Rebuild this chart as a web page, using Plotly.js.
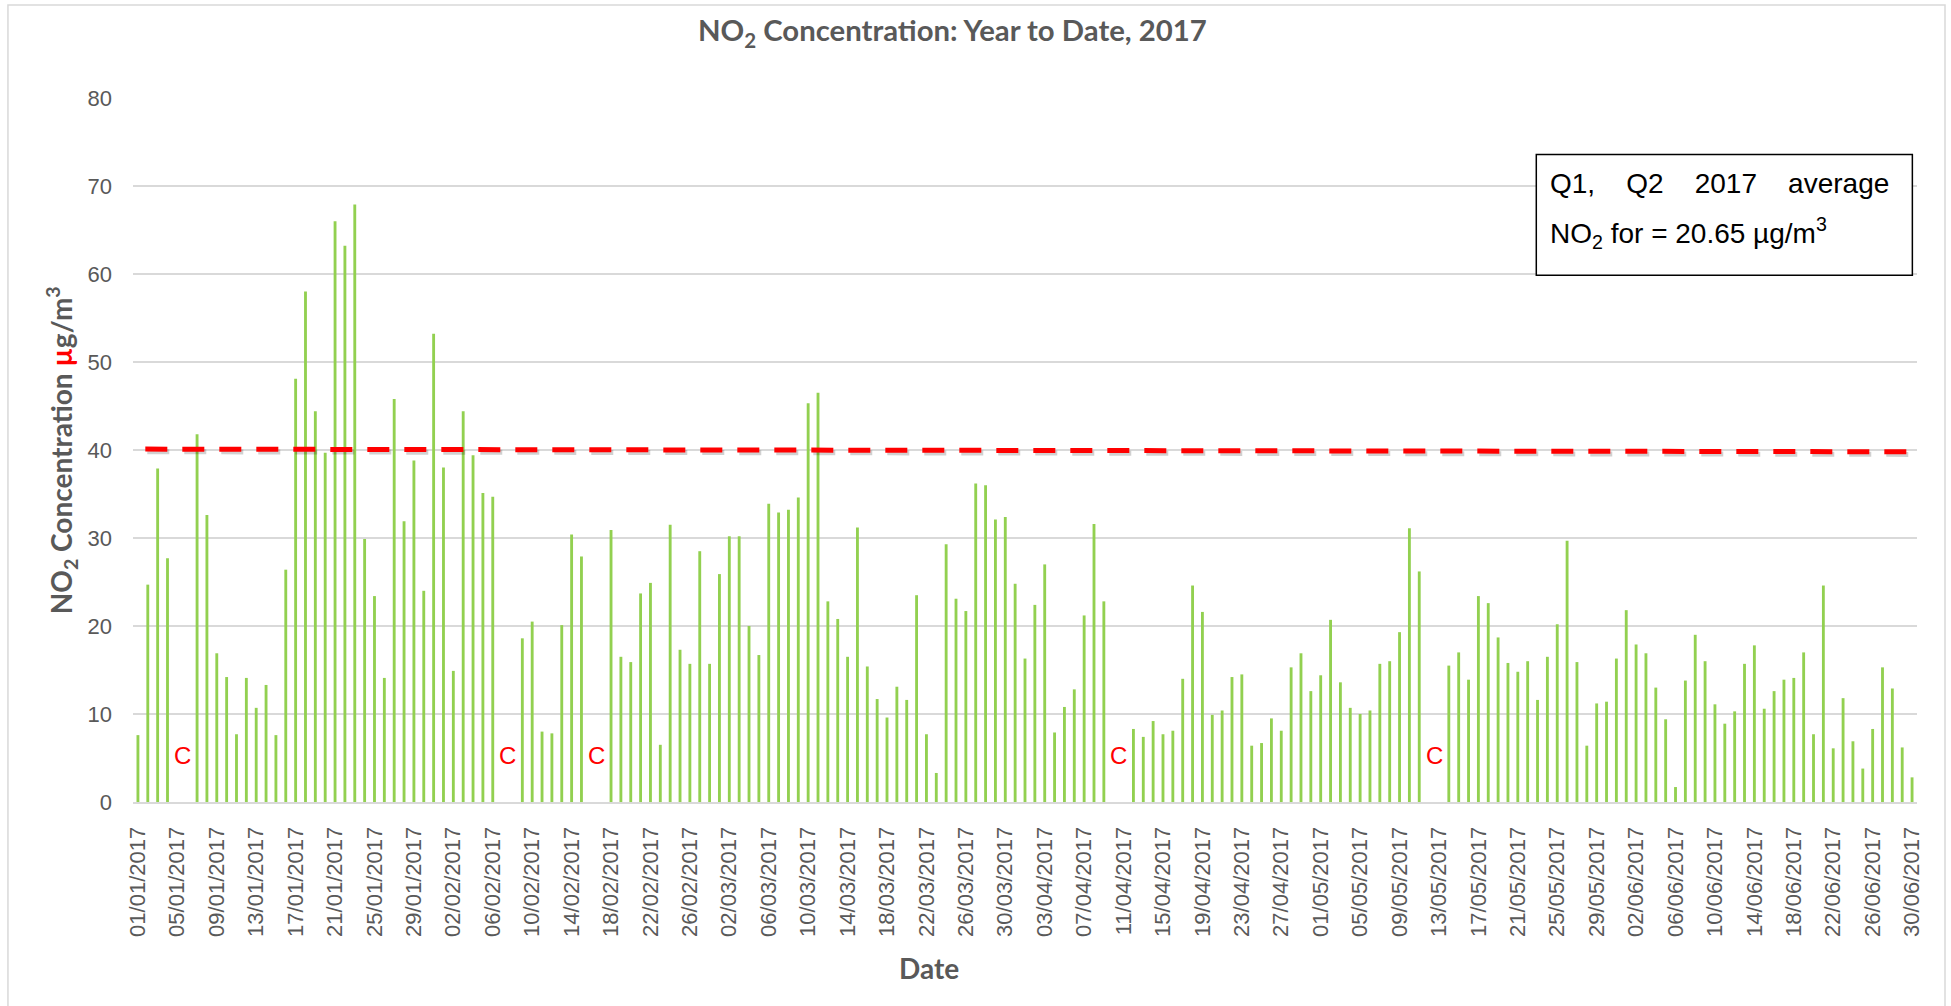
<!DOCTYPE html>
<html>
<head>
<meta charset="utf-8">
<script src="https://cdn.plot.ly/plotly-3.0.1.min.js"></script>
<style>html,body{margin:0;padding:0;background:#fff;}#chart{width:1951px;height:1006px;}</style>
</head>
<body>
<div id="chart"></div>
<script>
// Daily NO2 concentration (µg/m3), null = no data (C)
var jan = [7.6, 24.7, 37.9, 27.7, null, null, 41.8, 32.6, 16.9, 14.2, 7.7, 14.1, 10.7, 13.3, 7.6, 26.4,
           48.1, 58.0, 44.4, 39.7, 66.0, 63.2, 67.9, 29.9, 23.4, 14.1, 45.8, 31.9, 38.8, 24.0, 53.2];
var feb = [38.0, 14.9, 44.4, 39.4, 35.1, 34.7, null, null, 18.6, 20.5, 8.0, 7.8, 20.1, 30.4, 27.9, null,
           null, 30.9, 16.5, 15.9, 23.7, 24.9, 6.5, 31.5, 17.3, 15.7, 28.5, 15.7];
var mar = [25.9, 30.2, 30.2, 20.0, 16.7, 33.9, 32.9, 33.2, 34.6, 45.3, 46.5, 22.8, 20.8, 16.5, 31.2, 15.4,
           11.7, 9.6, 13.1, 11.6, 23.5, 7.7, 3.3, 29.3, 23.1, 21.7, 36.2, 36.0, 32.1, 32.4, 24.8];
var apr = [16.3, 22.4, 27.0, 7.9, 10.8, 12.8, 21.2, 31.6, 22.8, null, null, 8.3, 7.4, 9.2, 7.7, 8.1,
           14.0, 24.6, 21.6, 9.9, 10.4, 14.2, 14.5, 6.4, 6.7, 9.5, 8.1, 15.3, 16.9, 12.6];
var may = [14.4, 20.7, 13.6, 10.7, 10.0, 10.4, 15.7, 16.0, 19.3, 31.1, 26.2, null, null, 15.5, 17.0, 13.9,
           23.4, 22.6, 18.7, 15.8, 14.8, 16.0, 11.6, 16.5, 20.2, 29.7, 15.9, 6.4, 11.2, 11.4, 16.3];
var jun = [21.8, 17.9, 16.9, 13.0, 9.4, 1.7, 13.8, 19.0, 16.0, 11.1, 8.9, 10.3, 15.7, 17.8, 10.6, 12.6,
           13.9, 14.1, 17.0, 7.7, 24.6, 6.1, 11.8, 6.9, 3.8, 8.3, 15.3, 12.9, 6.2, 2.8];

var months = ['01', '02', '03', '04', '05', '06'];
var monthData = [jan, feb, mar, apr, may, jun];
var limitLine = [40.1, 39.8];         // 40 µg/m3 limit (drawn slightly sloping as in source)
var closedPairs = [['05/01/2017', '06/01/2017'], ['07/02/2017', '08/02/2017'], ['16/02/2017', '17/02/2017'],
                   ['10/04/2017', '11/04/2017'], ['12/05/2017', '13/05/2017']];
var closedLabel = 'C';
var titleText = 'NO<sub>2</sub> Concentration: Year to Date, 2017';
var yTitleText = 'NO<sub>2</sub> Concentration <span style="color:#FF0000">µ</span>g/m<sup>3</sup>';
var xTitleText = 'Date';
var noteLine1 = 'Q1,\u00a0\u00a0\u00a0\u00a0Q2\u00a0\u00a0\u00a0\u00a02017\u00a0\u00a0\u00a0\u00a0average';
var noteLine2 = 'NO<sub>2</sub> for = 20.65 µg/m<sup>3</sup>';

// categories
var dates = [], values = [];
monthData.forEach(function (arr, m) {
  arr.forEach(function (v, d) {
    var dd = (d + 1 < 10 ? '0' : '') + (d + 1);
    dates.push(dd + '/' + months[m] + '/2017');
    values.push(v);
  });
});
var tickVals = dates.filter(function (d, i) { return i % 4 === 0; });

var grey = '#595959';
var tickFont = {family: 'Liberation Sans, Arial, sans-serif', size: 22, color: grey};

var annotations = closedPairs.map(function (p) {
  var i0 = dates.indexOf(p[0]), i1 = dates.indexOf(p[1]);
  return {x: (i0 + i1) / 2, y: 5.3, xref: 'x', yref: 'y', text: closedLabel, showarrow: false,
          xanchor: 'center', yanchor: 'middle',
          font: {family: 'Liberation Sans, Arial, sans-serif', size: 24, color: '#FF0000'}};
});
annotations.push({x: -0.0402, y: 0.5, xref: 'paper', yref: 'paper', text: yTitleText, textangle: -90,
  showarrow: false, xanchor: 'center', yanchor: 'middle',
  font: {family: 'Lato, sans-serif', size: 28, color: grey, weight: 'bold'}});
annotations.push({x: 0.446, y: -0.2364, xref: 'paper', yref: 'paper', text: xTitleText,
  showarrow: false, xanchor: 'center', yanchor: 'middle',
  font: {family: 'Lato, sans-serif', size: 28, color: grey, weight: 'bold'}});
annotations.push({x: 0.7933, y: 0.879, xref: 'paper', yref: 'paper', text: noteLine1,
  showarrow: false, xanchor: 'left', yanchor: 'middle',
  font: {family: 'Liberation Sans, Arial, sans-serif', size: 28, color: '#000000'}});
annotations.push({x: 0.7933, y: 0.808, xref: 'paper', yref: 'paper', text: noteLine2,
  showarrow: false, xanchor: 'left', yanchor: 'middle',
  font: {family: 'Liberation Sans, Arial, sans-serif', size: 28, color: '#000000'}});

var shapes = [
  {type: 'line', xref: 'x', yref: 'y', x0: 0.95, x1: 181.2, y0: limitLine[0] - 0.3, y1: limitLine[1] - 0.3,
   line: {color: 'rgba(0,0,0,0.18)', width: 5, dash: '22px,15px'}, layer: 'above'},
  {type: 'line', xref: 'x', yref: 'y', x0: 0.75, x1: 181, y0: limitLine[0], y1: limitLine[1],
   line: {color: '#FF0000', width: 5, dash: '22px,15px'}, layer: 'above'},
  {type: 'rect', xref: 'paper', yref: 'paper', x0: 0.7866, x1: 0.9974, y0: 0.7482, y1: 0.9197,
   line: {color: '#000000', width: 1.5}, fillcolor: '#ffffff', layer: 'above'},
  {type: 'rect', xref: 'paper', yref: 'paper', x0: -0.0701, x1: 1.0157, y0: -0.2955, y1: 1.1321,
   line: {color: '#d9d9d9', width: 1.5}, fillcolor: 'rgba(0,0,0,0)', layer: 'below'}
];

var trace = {
  type: 'bar', x: dates, y: values, width: 0.29,
  marker: {color: '#92D050', line: {width: 0}},
  hoverinfo: 'x+y'
};

var layout = {
  width: 1951, height: 1006,
  margin: {l: 133, r: 34, t: 98, b: 204, pad: 0},
  paper_bgcolor: '#ffffff', plot_bgcolor: '#ffffff',
  showlegend: false,
  title: {text: titleText, x: 0.4593, xref: 'paper', xanchor: 'center', y: 0.969, yref: 'container', yanchor: 'middle',
          font: {family: 'Lato, sans-serif', size: 29.3, color: grey, weight: 'bold'}},
  xaxis: {type: 'category', range: [-0.5, 180.5], tickmode: 'array', tickvals: tickVals, ticktext: tickVals,
          tickangle: -90, tickfont: tickFont, showgrid: false, showline: true, linecolor: '#d9d9d9', linewidth: 2,
          ticks: '', ticklabelstandoff: 14, zeroline: false, fixedrange: true},
  yaxis: {range: [0, 80], dtick: 10, tick0: 0, tickfont: tickFont, showgrid: true, gridcolor: '#d9d9d9',
          gridwidth: 1.5, zeroline: false, showline: false, ticks: '', ticklabelstandoff: 20, fixedrange: true},
  shapes: shapes,
  annotations: annotations
};

Plotly.newPlot('chart', [trace], layout, {displayModeBar: false, staticPlot: true});
</script>
</body>
</html>
